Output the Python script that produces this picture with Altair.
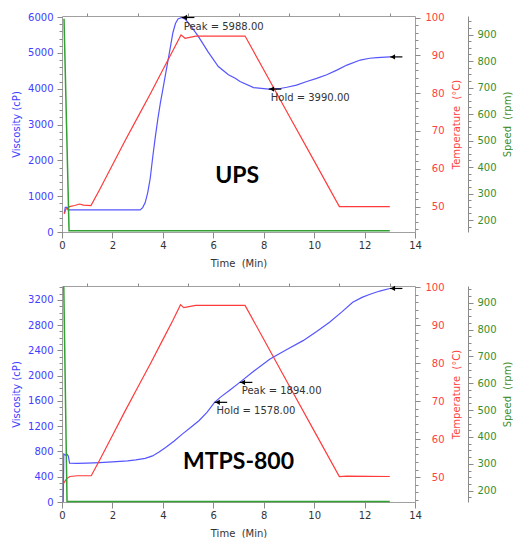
import altair as alt
import pandas as pd

FONT = "DejaVu Sans"
W, H = 353, 216
BLUE, BLUE_TXT = "#5555ff", "#4040ff"
RED, RED_TXT = "#ff3b3b", "#ff4040"
GREEN, GREEN_TXT = "#33a033", "#3c8c28"
GRAY = "#8a8a8a"

# ---------------- UPS ----------------
ups_vis_t = [0.09, 0.13, 0.20, 0.24, 0.5, 1.0, 2.0, 3.0, 3.1, 3.2, 3.3, 3.4, 3.5, 3.6, 3.7, 3.8, 3.9,
             4.0, 4.1, 4.2, 4.3, 4.4, 4.5, 4.6, 4.75, 4.9, 5.1, 5.4, 5.8, 6.2, 6.6, 6.87, 7.06, 7.6,
             8.2, 8.6, 8.92, 9.3, 9.71, 10.1, 10.5, 10.9, 11.3, 11.83, 12.2, 12.49, 13.0]
ups_vis = [520, 690, 690, 615, 615, 615, 615, 615, 615, 680, 820, 1100, 1500, 2100, 2650, 3150, 3600,
           3980, 4380, 4770, 5170, 5570, 5820, 5950, 5988, 5930, 5760, 5470, 5020, 4620, 4390, 4290, 4200, 4030,
           3990, 4000, 4040, 4100, 4200, 4290, 4390, 4520, 4660, 4800, 4850, 4870, 4888]
ups_temp_t = [0.09, 0.15, 0.3, 0.5, 0.7, 0.85, 1.15, 1.5, 2.0, 2.5, 3.0, 3.5, 4.0, 4.4, 4.72, 4.88,
              5.3, 7.26, 8.0, 9.0, 10.0, 11.0, 13.0]
ups_temp = [48.1, 49.3, 50.0, 50.3, 50.7, 50.4, 50.3, 54.6, 61.0, 67.4, 73.6, 79.8, 86.2, 91.3, 95.4, 94.5,
            95.1, 95.1, 86.2, 74.1, 62.1, 50.0, 50.0]
ups_speed_t = [0.08, 0.28, 13.0]
ups_speed = [960, 160, 160]
ups_notes_t = [4.75, 8.2, 13.0]
ups_notes_v = [5988, 3990, 4888]
ups_notes_txt = ["Peak = 5988.00", "Hold = 3990.00", ""]
ups_vis_ticks = [0, 1000, 2000, 3000, 4000, 5000, 6000]

# ---------------- MTPS-800 ----------------
mtps_vis_t = [0.05, 0.07, 0.15, 0.2, 0.25, 0.3, 0.6, 1.0, 1.5, 2.15, 2.6, 2.93, 3.3, 3.59, 3.85, 4.11,
              4.45, 4.77, 5.1, 5.43, 5.75, 6.05, 6.3, 6.65, 7.05, 7.6, 8.25, 8.9, 9.56, 10.1, 10.61,
              11.1, 11.53, 11.9, 12.19, 12.6, 13.0]
mtps_vis = [0, 760, 740, 755, 730, 615, 610, 615, 625, 640, 652, 667, 690, 730, 790, 862,
            965, 1075, 1180, 1286, 1420, 1578, 1665, 1770, 1894, 2070, 2265, 2410, 2555, 2700, 2846,
            3010, 3163, 3240, 3285, 3340, 3381]
mtps_temp_t = [0.05, 0.18, 0.31, 0.6, 1.16, 1.5, 2.0, 2.5, 3.0, 3.5, 4.0, 4.4, 4.70, 4.83, 5.3, 7.26,
               8.0, 9.0, 10.0, 11.0, 11.3, 13.0]
mtps_temp = [48.3, 49.6, 50.2, 50.4, 50.4, 54.6, 61.0, 67.4, 73.6, 79.8, 86.2, 91.3, 95.4, 94.6, 95.2, 95.2,
             86.3, 74.2, 62.2, 50.2, 50.3, 50.2]
mtps_speed_t = [0.07, 0.2, 13.0]
mtps_speed = [960, 160, 160]
mtps_notes_t = [7.05, 6.05, 13.0]
mtps_notes_v = [1894, 1578, 3381]
mtps_notes_txt = ["Peak = 1894.00", "Hold = 1578.00", ""]
mtps_vis_ticks = [0, 400, 800, 1200, 1600, 2000, 2400, 2800, 3200]

temp_ticks = [50, 60, 70, 80, 90, 100]
speed_ticks = [200, 300, 400, 500, 600, 700, 800, 900]
time_ticks = [0, 2, 4, 6, 8, 10, 12, 14]
time_minor = [1, 3, 5, 7, 9, 11, 13]


def frange(a, b, s):
    out, v = [], a
    while v <= b + 1e-9:
        out.append(round(v, 6))
        v += s
    return out


def xenc(axis=None):
    return alt.X("t:Q", scale=alt.Scale(domain=[0, 14], nice=False, zero=False), axis=axis)


def panel(vt, vv, tt, tv, st, sv, nt, nv, ntxt, vis_ticks, vis_minor_step, vis_dom,
          temp_dom, speed_dom, label, label_t, label_v):
    dv = pd.DataFrame({"t": vt, "v": vv})
    dt = pd.DataFrame({"t": tt, "v": tv})
    ds = pd.DataFrame({"t": st, "v": sv})
    dn = pd.DataFrame({"t": nt, "v": nv, "txt": ntxt})
    dn["t2"] = dn["t"] + 0.5
    dl = pd.DataFrame({"t": [label_t], "v": [label_v], "txt": [label]})

    x_major = alt.Axis(values=time_ticks, format="d", tickSize=6, tickColor=GRAY, labelPadding=2,
                       labelFlush=False, labelOverlap=False, labelColor="#333333", domain=False,
                       grid=False, title="Time\u00a0 (Min)", titleColor="#333333", titleX=W / 2,
                       titleY=31, titleAlign="center", titleBaseline="middle")
    x_minor = alt.Axis(values=time_minor, tickSize=3, tickColor=GRAY, labels=False, domain=False,
                       grid=False, title=None)

    ys = lambda dom: alt.Scale(domain=dom, nice=False, zero=False)

    vis = alt.Chart(dv).mark_line(color=BLUE, strokeWidth=1.2).encode(
        x=xenc(x_major),
        y=alt.Y("v:Q", scale=ys(vis_dom), axis=alt.Axis(
            orient="left", values=vis_ticks, format="d", tickSize=5, tickColor=GRAY, labelPadding=4,
            labelColor=BLUE_TXT, labelFlush=False, labelOverlap=False, domain=False, grid=False,
            title="Viscosity (cP)", titleColor=BLUE_TXT, titleAngle=270, titleX=-46, titleY=H / 2,
            titleAlign="center", titleBaseline="middle")))
    vis_minor = alt.Chart(dv).mark_line(strokeOpacity=0).encode(
        x=xenc(x_minor),
        y=alt.Y("v:Q", scale=ys(vis_dom), axis=alt.Axis(
            orient="left", values=frange(0, vis_dom[1], vis_minor_step), tickSize=3, tickColor=GRAY,
            labels=False, domain=False, grid=False, title=None)))

    temp = alt.Chart(dt).mark_line(color=RED, strokeWidth=1.2).encode(
        x=xenc(),
        y=alt.Y("v:Q", scale=ys(temp_dom), axis=alt.Axis(
            orient="right", values=temp_ticks, format="d", tickSize=5, tickColor=GRAY, labelPadding=24,
            labelAlign="right", labelColor=RED_TXT, labelFlush=False, labelOverlap=False,
            domain=False, grid=False, title="Temperature\u00a0 (°C)", titleColor=RED_TXT,
            titleAngle=270, titleX=41, titleY=H / 2, titleAlign="center", titleBaseline="middle")))
    temp_minor = alt.Chart(dt).mark_line(strokeOpacity=0).encode(
        x=xenc(),
        y=alt.Y("v:Q", scale=ys(temp_dom), axis=alt.Axis(
            orient="right", values=frange(44, 100, 2), tickSize=3, tickColor=GRAY, labels=False,
            domain=False, grid=False, title=None)))

    speed = alt.Chart(ds).mark_line(color=GREEN, strokeWidth=1.5).encode(
        x=xenc(),
        y=alt.Y("v:Q", scale=ys(speed_dom), axis=alt.Axis(
            orient="right", offset=53, values=speed_ticks, format="d", tickSize=5, tickColor=GRAY,
            labelPadding=4, labelColor=GREEN_TXT, labelFlush=False, labelOverlap=False, domain=True,
            domainColor=GRAY, grid=False, title="Speed\u00a0 (rpm)", titleColor=GREEN_TXT,
            titleAngle=270, titleX=39, titleY=H / 2, titleAlign="center", titleBaseline="middle")))
    speed_minor = alt.Chart(ds).mark_line(strokeOpacity=0).encode(
        x=xenc(),
        y=alt.Y("v:Q", scale=ys(speed_dom), axis=alt.Axis(
            orient="right", offset=53, values=frange(175, 950, 25), tickSize=3, tickColor=GRAY,
            labels=False, domain=False, grid=False, title=None)))

    yv = alt.Y("v:Q", scale=ys(vis_dom), axis=None)
    arrow = alt.Chart(dn).mark_rule(color="black", strokeWidth=1.2).encode(
        x=xenc(), x2="t2:Q", y=yv)
    head = alt.Chart(dn).mark_point(shape="triangle-left", filled=True, size=28, color="black",
                                    opacity=1, xOffset=3).encode(x=xenc(), y=yv)
    ntext = alt.Chart(dn).mark_text(align="left", baseline="middle", dx=2, dy=9, font=FONT,
                                    fontSize=10, color="#333333").encode(x=xenc(), y=yv, text="txt:N")
    big = alt.Chart(dl).mark_text(font="Lato", fontWeight="bold", fontSize=23, color="black").encode(
        x=xenc(), y=yv, text="txt:N")

    return alt.layer(vis, vis_minor, temp, temp_minor, speed, speed_minor, arrow, head, ntext, big
                     ).resolve_scale(x="independent", y="independent").properties(width=W, height=H)


top = panel(ups_vis_t, ups_vis, ups_temp_t, ups_temp, ups_speed_t, ups_speed,
            ups_notes_t, ups_notes_v, ups_notes_txt, ups_vis_ticks, 200, [0, 6030],
            [43.3, 100.4], [155, 970], "UPS", 6.95, 1565)
bottom = panel(mtps_vis_t, mtps_vis, mtps_temp_t, mtps_temp, mtps_speed_t, mtps_speed,
               mtps_notes_t, mtps_notes_v, mtps_notes_txt, mtps_vis_ticks, 100, [0, 3420],
               [43.5, 100.3], [158, 962], "MTPS-800", 7.0, 627)

chart = alt.vconcat(top, bottom, spacing=12).properties(
    padding={"left": 10, "top": 11, "right": 0, "bottom": 0}, background="white"
).configure_view(stroke="#a0a0a0", strokeWidth=1).configure_axis(
    labelFont=FONT, titleFont=FONT, labelFontSize=10, titleFontSize=10, titleFontWeight="normal"
)

chart.save("out.html", embed_options={"renderer": "svg", "actions": False})
